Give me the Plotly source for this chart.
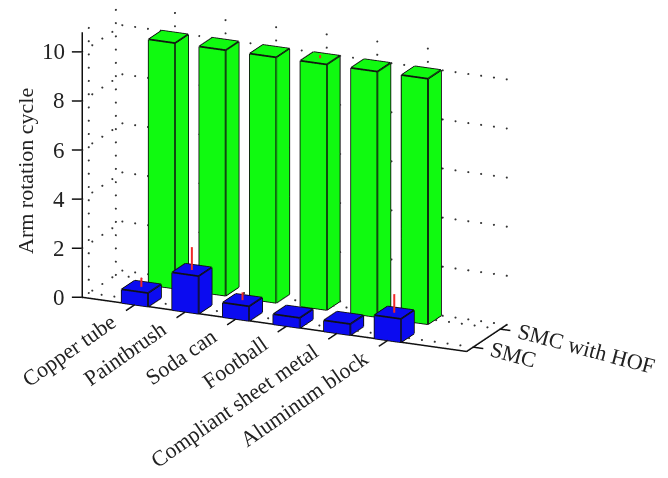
import math
import plotly.graph_objects as go

categories = ["Copper tube", "Paintbrush", "Soda can", "Football", "Compliant sheet metal", "Aluminum block"]
series_names = ["SMC", "SMC with HOF"]
smc_values = [0.55, 1.53, 0.59, 0.41, 0.45, 0.95]
smc_errors = [0.37, 0.93, 0.32, 0.0, 0.0, 0.76]
hof_values = [10, 10, 10, 10, 10, 10]
hof_errors = [0, 0, 0, 0.13, 0, 0]
z_ticks = [0, 2, 4, 6, 8, 10]

BLUE = "#0b0bf0"
GREEN = "#10fa10"
INK = "#222222"
FONT = "Liberation Serif"
W, D = 0.52, 0.48
XR = [-0.04, 7.56]
YR = [1 - D / 2, 2 + D / 2]
ZR = [0, 10.8]
# scene ranges are padded evenly so that the axis lines and ticks are not clipped at the bounds
PX, PY, PZ = 0.5, 0.5, 1.0
EYE_R = 6.0
AZ, EL = math.radians(-65.3), math.radians(17.85)

fig = go.Figure()


def seg(lines, a, b):
    for i in range(3):
        lines[i].extend([a[i], b[i], None])


def add_bars(vals, y0, color):
    vx, vy, vz, ti, tj, tk = [], [], [], [], [], []
    edges = ([], [], [])
    for n, v in enumerate(vals):
        cx = n + 1
        x0, x1 = cx - W / 2, cx + W / 2
        yy0, yy1 = y0 - D / 2, y0 + D / 2
        b = len(vx)
        corners = [(x0, yy0, 0), (x1, yy0, 0), (x1, yy1, 0), (x0, yy1, 0),
                   (x0, yy0, v), (x1, yy0, v), (x1, yy1, v), (x0, yy1, v)]
        for c in corners:
            vx.append(c[0]); vy.append(c[1]); vz.append(c[2])
        for f in [(0, 1, 2), (0, 2, 3), (4, 5, 6), (4, 6, 7), (0, 1, 5), (0, 5, 4),
                  (1, 2, 6), (1, 6, 5), (2, 3, 7), (2, 7, 6), (3, 0, 4), (3, 4, 7)]:
            ti.append(b + f[0]); tj.append(b + f[1]); tk.append(b + f[2])
        for p, q in [(0, 1), (1, 2), (2, 3), (3, 0), (4, 5), (5, 6), (6, 7), (7, 4),
                     (0, 4), (1, 5), (2, 6), (3, 7)]:
            seg(edges, corners[p], corners[q])
    fig.add_trace(go.Mesh3d(x=vx, y=vy, z=vz, i=ti, j=tj, k=tk, color=color, flatshading=True,
                            lighting=dict(ambient=1, diffuse=0, specular=0, fresnel=0, roughness=1),
                            hoverinfo="skip", showscale=False))
    fig.add_trace(go.Scatter3d(x=edges[0], y=edges[1], z=edges[2], mode="lines",
                               line=dict(color="#101010", width=3.5), hoverinfo="skip", showlegend=False))


# dotted grid
def frange(a, b, step):
    n = int(round((b - a) / step))
    return [a + (b - a) * i / n for i in range(n + 1)]


gx, gy, gz = [], [], []
def dots(xs, ys, zs):
    for x in xs:
        for y in ys:
            for z in zs:
                gx.append(x); gy.append(y); gz.append(z)


xticks = list(range(1, len(categories) + 1))
for z in z_ticks:
    dots(frange(XR[0], XR[1], 0.25), [YR[1]], [z])
    dots([XR[0]], frange(YR[0], YR[1], 0.37), [z])
for x in xticks:
    dots([x], [YR[1]], frange(ZR[0], ZR[1], 0.54))
    dots([x], frange(YR[0], YR[1], 0.37), [0])
for y in [1, 2]:
    dots([XR[0]], [y], frange(ZR[0], ZR[1], 0.54))
    dots(frange(XR[0], XR[1], 0.25), [y], [0])
fig.add_trace(go.Scatter3d(x=gx, y=gy, z=gz, mode="markers",
                           marker=dict(size=1.2, color="#333333", line=dict(width=0)),
                           hoverinfo="skip", showlegend=False))

add_bars(smc_values, 1, BLUE)
add_bars(hof_values, 2, GREEN)

# error stems (the lower arm is hidden inside the bar)
ex, ey, ez = [], [], []
for yv, vals, errs in [(1, smc_values, smc_errors), (2, hof_values, hof_errors)]:
    for n, (v, e) in enumerate(zip(vals, errs)):
        if e > 0:
            ex += [n + 1, n + 1, None]; ey += [yv, yv, None]; ez += [v, v + e, None]
fig.add_trace(go.Scatter3d(x=ex, y=ey, z=ez, mode="lines", line=dict(color="#f02828", width=4),
                           hoverinfo="skip", showlegend=False))

# axes
ax = ([], [], [])
seg(ax, (XR[0], YR[0], ZR[0]), (XR[0], YR[0], ZR[1]))
seg(ax, (XR[0], YR[0], 0), (XR[1], YR[0], 0))
seg(ax, (XR[1], YR[0], 0), (XR[1], YR[1], 0))
for z in z_ticks:
    seg(ax, (XR[0], YR[0], z), (XR[0] - 0.17, YR[0] - 0.067, z))
for x in xticks:
    seg(ax, (x, YR[0], 0), (x, YR[0] - 0.33, 0))
for y in [1, 2]:
    seg(ax, (XR[1], y, 0), (XR[1] + 0.2, y, 0))
fig.add_trace(go.Scatter3d(x=ax[0], y=ax[1], z=ax[2], mode="lines", line=dict(color="#101010", width=3),
                           hoverinfo="skip", showlegend=False))

anns = []
tf = dict(family=FONT, size=22, color=INK)
for z in z_ticks:
    anns.append(dict(x=XR[0], y=YR[0], z=z, text=str(z), showarrow=False, xanchor="right", yanchor="middle",
                     xshift=-15, font=dict(family=FONT, size=23, color=INK)))
for x, c in zip(xticks, categories):
    anns.append(dict(x=x, y=YR[0], z=0, text=c, showarrow=False, xanchor="right", yanchor="top",
                     xshift=-12, yshift=-2, textangle=-35, font=tf))
for y, s in zip([1, 2], series_names):
    anns.append(dict(x=XR[1], y=y, z=0, text=s, showarrow=False, xanchor="left", yanchor="top",
                     xshift=12, yshift=13, textangle=15, font=tf))

hidden = dict(visible=False, showgrid=False, zeroline=False, showticklabels=False, showspikes=False, showbackground=False)
k = 277.6 / 1.56
asp_x = 421.8 / k * (XR[1] - XR[0] + 2 * PX) / (XR[1] - XR[0])
asp_y = 95.6 / k * (YR[1] - YR[0] + 2 * PY) / (YR[1] - YR[0])
asp_z = 277.6 / k * (ZR[1] - ZR[0] + 2 * PZ) / (ZR[1] - ZR[0])
fig.update_layout(
    width=668, height=478, margin=dict(l=0, r=0, t=0, b=0), paper_bgcolor="white", showlegend=False,
    scene=dict(
        domain=dict(x=[0, 589 / 668], y=[1 - 357 / 478, 1]),
        xaxis=dict(range=[XR[0] - PX, XR[1] + PX], **hidden),
        yaxis=dict(range=[YR[0] - PY, YR[1] + PY], **hidden),
        zaxis=dict(range=[ZR[0] - PZ, ZR[1] + PZ], **hidden),
        aspectmode="manual", aspectratio=dict(x=asp_x, y=asp_y, z=asp_z),
        camera=dict(projection=dict(type="orthographic"), up=dict(x=0, y=0, z=1), center=dict(x=0, y=0, z=0),
                    eye=dict(x=EYE_R * math.cos(EL) * math.cos(AZ), y=EYE_R * math.cos(EL) * math.sin(AZ),
                             z=EYE_R * math.sin(EL))),
        annotations=anns,
    ),
    annotations=[dict(xref="paper", yref="paper", x=26 / 668, y=1 - 171 / 478, text="Arm rotation cycle",
                      xanchor="center", yanchor="middle", textangle=-90, showarrow=False, font=tf)],
)
fig.write_html("out.html", config=dict(displayModeBar=False),
               post_script="document.body.style.margin='0';")
